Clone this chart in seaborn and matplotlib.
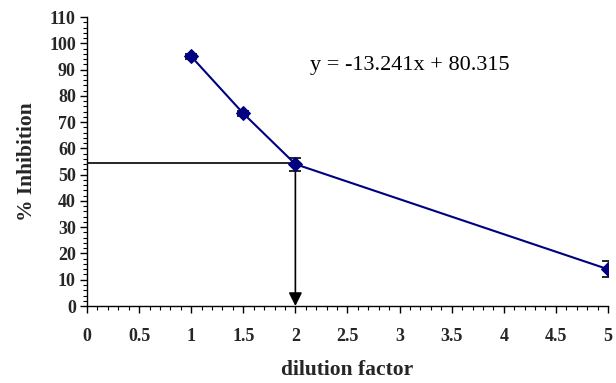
import matplotlib
matplotlib.use("Agg")
import matplotlib.pyplot as plt
import seaborn as sns
import pandas as pd
from matplotlib.ticker import MultipleLocator

dilution = [1, 1.5, 2, 5]
inhibition = [95, 73.3, 54, 14]
errors = [1, 1, 2.5, 3]
x_ticks = [0, 0.5, 1, 1.5, 2, 2.5, 3, 3.5, 4, 4.5, 5]
x_tick_labels = ["0", "0.5", "1", "1.5", "2", "2.5", "3", "3.5", "4", "4.5", "5"]
y_ticks = list(range(0, 111, 10))
target_x = 2
target_y = 54.5
equation = "y = -13.241x + 80.315"

sns.set_style("ticks")
plt.rcParams['font.family'] = ['Liberation Serif', 'DejaVu Serif']

df = pd.DataFrame({"dilution factor": dilution, "% Inhibition": inhibition})

fig = plt.figure(figsize=(6.16, 3.83), dpi=100)
ax = fig.add_axes([0.1412, 0.201, 0.987 - 0.1412, 0.9556 - 0.201])

ax.errorbar(dilution, inhibition, yerr=errors, fmt="none", ecolor="black",
            elinewidth=1, capsize=4.5, capthick=1.2, zorder=2)
sns.lineplot(data=df, x="dilution factor", y="% Inhibition", ax=ax,
             color="#000080", linewidth=1.5, marker="D", markersize=7,
             markeredgecolor="#000080", zorder=3)

# guide lines
ax.plot([0, target_x], [target_y, target_y], color="black", linewidth=1.2, zorder=1)
ax.annotate("", xy=(target_x, 0), xytext=(target_x, target_y),
            arrowprops=dict(arrowstyle="-|>", color="black", lw=1.2,
                            mutation_scale=20, shrinkA=0, shrinkB=0), zorder=1)

ax.text(2.14, 91.5, equation, fontsize=16, color="black", ha="left", va="center")

ax.set_xlim(0, 5)
ax.set_ylim(0, 110)
ax.set_xticks(x_ticks)
ax.set_xticklabels(x_tick_labels)
ax.set_yticks(y_ticks)
ax.xaxis.set_minor_locator(MultipleLocator(0.1))
ax.yaxis.set_minor_locator(MultipleLocator(2))
ax.tick_params(axis="both", which="major", length=5, width=1, color="black",
               labelsize=13, pad=10.5)
ax.tick_params(axis="y", which="major", pad=3)
ax.tick_params(axis="both", which="minor", length=3, width=0.8, color="black")
for lab in ax.get_xticklabels() + ax.get_yticklabels():
    lab.set_fontweight("bold")

ax.set_xlabel("dilution factor", fontsize=15.5, fontweight="bold", labelpad=11)
ax.set_ylabel("% Inhibition", fontsize=15.5, fontweight="bold", labelpad=9)

for side in ["top", "right"]:
    ax.spines[side].set_visible(False)
for side in ["left", "bottom"]:
    ax.spines[side].set_color("black")
    ax.spines[side].set_linewidth(1)

fig.savefig("out.png", dpi=100)
